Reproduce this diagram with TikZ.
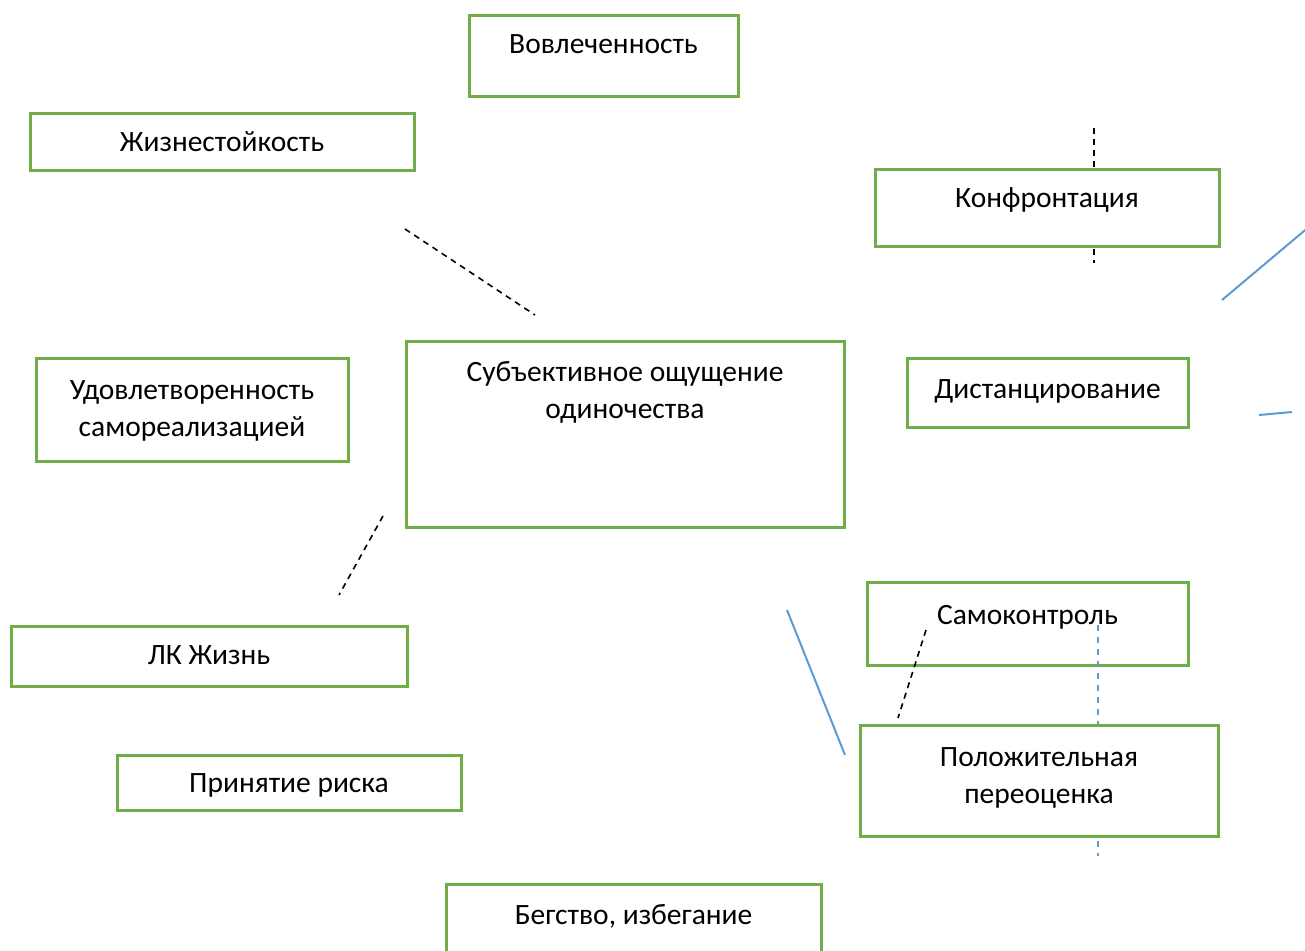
\documentclass[tikz,border=0pt]{standalone}
\usepackage{fontspec}
\setmainfont{Carlito}
\definecolor{boxgreen}{HTML}{70AD47}
\definecolor{linkblue}{HTML}{5B9BD5}
\begin{document}
\begin{tikzpicture}[x=1pt,y=-1pt]
	\tikzstyle{box}=[rectangle,draw=boxgreen,line width=3pt,fill=white,align=center,inner sep=0pt,text height=20pt,font=\fontsize{29.5}{37}\selectfont]
	\tikzstyle{twoline}=[text height=57pt]
	\tikzstyle{tie}=[draw,line width=1.6pt,dash pattern=on 6pt off 5pt]
	\tikzstyle{bluelink}=[draw=linkblue,line width=2pt]
	\tikzstyle{bluedash}=[draw=linkblue,line width=2pt,dash pattern=on 6pt off 6pt]
	\useasboundingbox (0,0) rectangle (1305,950);
	\begin{scope}
		% free ends of the connectors
		\coordinate (k1) at (1094,128);
		\coordinate (k2) at (1094,263);
		\coordinate (h1) at (405,229);
		\coordinate (h2) at (535,315);
		\coordinate (l1) at (383,516);
		\coordinate (l2) at (339,595);
		\coordinate (b1) at (1222,300);
		\coordinate (b2) at (1310,226);
		\coordinate (b3) at (1259,415);
		\coordinate (b4) at (1292,412);
		\coordinate (b5) at (787,610);
		\coordinate (b6) at (845,755);
		\coordinate (s1) at (926,630);
		\coordinate (s2) at (898,718);
		\coordinate (d1) at (1098,625);
		\coordinate (d2) at (1098,856);
		\path[tie] (k1) -- (k2);
		\node [box,minimum width=269,minimum height=80,text depth=26pt] (vovl) at (603.5,56) {Вовлеченность};
		\node [box,minimum width=384,minimum height=57,text depth=1pt] (zhizn) at (222,141.5) {Жизнестойкость};
		\node [box,minimum width=344,minimum height=77,text depth=21pt] (konf) at (1047,207.5) {Конфронтация};
		\node [box,twoline,minimum width=312,minimum height=103,text depth=4pt] (udovl) at (192,409.5) {Удовлетворенность\\самореализацией};
		\node [box,twoline,minimum width=438,minimum height=186,text depth=89pt] (odin) at (625,434) {Субъективное ощущение\\одиночества};
		\node [box,minimum width=281,minimum height=69,text depth=9pt] (dist) at (1047.5,392.5) {Дистанцирование};
		\node [box,minimum width=396,minimum height=60,text depth=4pt] (lkzh) at (209,656) {ЛК Жизнь};
		\node [box,minimum width=344,minimum height=55,text depth=0pt] (risk) at (289,782.5) {Принятие риска};
		\node [box,minimum width=375,minimum height=86,text depth=26pt] (beg) at (633.5,927) {Бегство, избегание};
		\node [box,minimum width=321,minimum height=83,text depth=19pt] (samok) at (1027.5,623.5) {Самоконтроль};
		\path[tie] (h1) -- (h2);
		\path[tie] (l1) -- (l2);
		\path[bluelink] (b1) -- (b2);
		\path[bluelink] (b3) -- (b4);
		\path[bluelink] (b5) -- (b6);
		\path[tie] (s1) -- (s2);
		\path[bluedash] (d1) -- (d2);
		\node [box,twoline,minimum width=358,minimum height=111,text depth=12pt] (pereoc) at (1039,780.5) {Положительная\\переоценка};
	\end{scope}
\end{tikzpicture}
\end{document}
